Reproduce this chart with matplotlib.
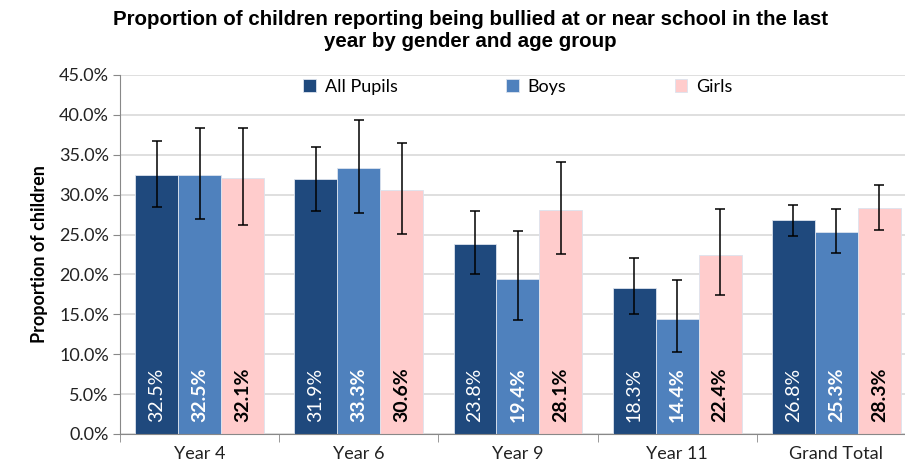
import matplotlib.pyplot as plt
import numpy as np

plt.rcParams['font.family'] = ['Lato', 'DejaVu Sans']

groups = ["Year 4", "Year 6", "Year 9", "Year 11", "Grand Total"]
series = ["All Pupils", "Boys", "Girls"]

all_pupils = [32.5, 31.9, 23.8, 18.3, 26.8]
boys = [32.5, 33.3, 19.4, 14.4, 25.3]
girls = [32.1, 30.6, 28.1, 22.4, 28.3]

# confidence intervals (lower, upper)
all_lo = [28.4, 27.9, 20.1, 15.0, 24.8]
all_hi = [36.7, 36.0, 27.9, 22.0, 28.7]
boys_lo = [26.9, 27.7, 14.3, 10.3, 22.7]
boys_hi = [38.3, 39.3, 25.5, 19.3, 28.2]
girls_lo = [26.2, 25.1, 22.6, 17.4, 25.6]
girls_hi = [38.3, 36.5, 34.1, 28.2, 31.2]

colors = ['#1F497D', '#4F81BD', '#FFCCCC']
label_colors = ['white', 'white', 'black']
label_weights = ['normal', 'bold', 'bold']

fig = plt.figure(figsize=(9.05, 4.71), dpi=100)
ax = fig.add_axes([0.1326, 0.0786, 0.8795, 0.7622])

x = np.arange(len(groups))
w = 0.27
data = [(all_pupils, all_lo, all_hi), (boys, boys_lo, boys_hi), (girls, girls_lo, girls_hi)]
for i, (vals, lo, hi) in enumerate(data):
    pos = x + (i - 1) * w
    v = np.array(vals)
    err = [v - np.array(lo), np.array(hi) - v]
    ax.bar(pos, v, w, color=colors[i], edgecolor='#DCE3EE', linewidth=0.6,
           label=series[i], zorder=2)
    ax.errorbar(pos, v, yerr=err, fmt='none', ecolor='black', elinewidth=1.1,
                capsize=3.8, capthick=1.1, zorder=3)
    for p, val in zip(pos, vals):
        ax.text(p, 1.5, f"{val:.1f}%", rotation=90, ha='center', va='bottom',
                color=label_colors[i], fontweight=label_weights[i], fontsize=14, zorder=4)

ax.set_xlim(-0.5, len(groups) - 0.5)
ax.set_ylim(0, 45)
ax.set_yticks(np.arange(0, 46, 5))
ax.set_yticklabels([f"{t:.1f}%" for t in np.arange(0, 46, 5)], fontsize=13, color='#222222')
ax.set_xticks(x)
ax.set_xticklabels(groups, fontsize=13, color='#222222')
ax.set_xticks(np.arange(-0.5, len(groups), 1), minor=True)
ax.tick_params(axis='x', which='major', length=0, pad=9)
ax.tick_params(axis='x', which='minor', length=6, color='#888888')
ax.tick_params(axis='y', length=5, color='#888888', pad=3)
ax.grid(axis='y', color='#D9D9D9', linewidth=1.2, zorder=0)
ax.set_axisbelow(True)
for s in ['top', 'right']:
    ax.spines[s].set_visible(False)
for s in ['left', 'bottom']:
    ax.spines[s].set_color('#888888')

ax.set_ylabel("Proportion of children", fontsize=13, fontweight='bold', labelpad=8)

fig.suptitle("Proportion of children reporting being bullied at or near school in the last\n"
             "year by gender and age group", x=0.52, y=0.978, fontsize=14.8,
             fontweight='bold', family=['Liberation Sans', 'DejaVu Sans'], linespacing=1.2)

ax.legend(loc='upper center', bbox_to_anchor=(0.5, 1.035), ncol=3, frameon=False,
          fontsize=13, handlelength=0.7, handleheight=0.7, columnspacing=6.0,
          handletextpad=0.5)

fig.savefig("out.png", dpi=100)
